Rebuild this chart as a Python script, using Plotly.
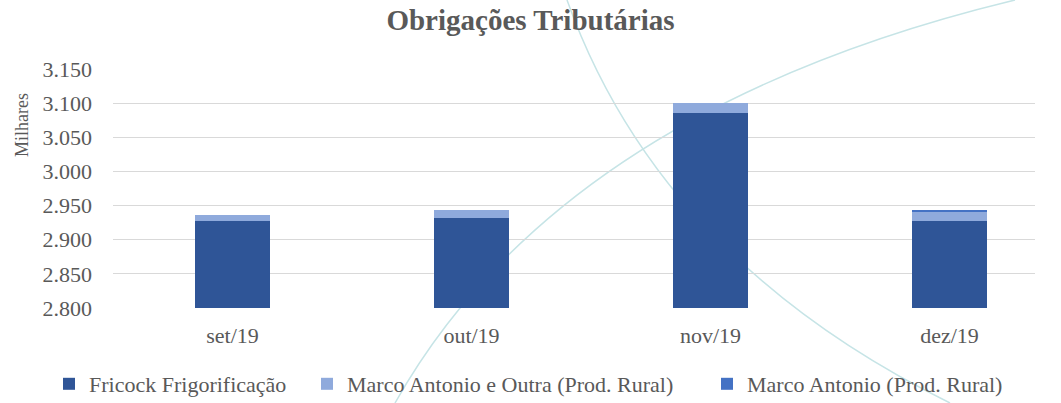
import plotly.graph_objects as go

categories = ["set/19", "out/19", "nov/19", "dez/19"]
fricock = [2928, 2932, 3086, 2928]
marco_outra = [8, 11, 14, 14]
marco_antonio = [0, 0, 0, 1.2]

series_names = ["Fricock Frigorificação", "Marco Antonio e Outra (Prod. Rural)", "Marco Antonio (Prod. Rural)"]
series_colors = ["#2f5597", "#8faadc", "#4472c4"]

W, H = 1061, 403
L, R, T, B = 113, 26, 69, 95
pw, ph = W - L - R, H - T - B

def px(x):
    return (x - L) / pw

def py(y):
    return (H - B - y) / ph

font_fam = "Liberation Serif, Times New Roman, serif"
grey = "#595959"

legend_keys = ["legend", "legend2", "legend3"]
marker_centers = [69, 327, 727]

fig = go.Figure()
x_idx = list(range(len(categories)))
for name, vals, col, lk in zip(series_names, [fricock, marco_outra, marco_antonio], series_colors, legend_keys):
    fig.add_trace(go.Bar(x=x_idx, y=vals, name=name, marker=dict(color=col, line=dict(width=0)),
                         width=0.314, legend=lk))

curve1 = f"M {px(395)},{py(403)} Q {px(560)},{py(110)} {px(1015)},{py(0)}"
curve2 = f"M {px(567)},{py(0)} Q {px(660)},{py(260)} {px(950)},{py(403)}"

shapes = [
    dict(type="path", xref="paper", yref="paper", path=curve1, layer="below",
         line=dict(color="#c6e4e6", width=1.5)),
    dict(type="path", xref="paper", yref="paper", path=curve2, layer="below",
         line=dict(color="#c6e4e6", width=1.5)),
]

legends = {}
for lk, mc in zip(legend_keys, marker_centers):
    legends[lk] = dict(orientation="h", x=px(mc - 20), xanchor="left", y=py(384), yanchor="middle",
                       font=dict(size=22, color=grey, family=font_fam), bgcolor="rgba(0,0,0,0)",
                       borderwidth=0)

fig.update_layout(
    width=W, height=H,
    margin=dict(l=L, r=R, t=T, b=B, autoexpand=False),
    barmode="stack",
    separators=",.",
    plot_bgcolor="rgba(0,0,0,0)",
    paper_bgcolor="white",
    font=dict(family=font_fam, color=grey, size=20),
    title=dict(text="<b>Obrigações Tributárias</b>", x=0.5, xanchor="center",
               y=1 - 20 / H, yanchor="middle", font=dict(size=29, color=grey, family=font_fam)),
    xaxis=dict(tickmode="array", tickvals=x_idx, ticktext=categories, range=[-0.5, -0.5 + pw / 239],
               showgrid=False, zeroline=False, showline=False, ticks="", ticklabelstandoff=12,
               tickfont=dict(size=22, color=grey, family=font_fam)),
    yaxis=dict(range=[2800, 3150], dtick=50, tickformat=",.0f", showgrid=True, gridcolor="#d9d9d9",
               gridwidth=1, zeroline=False, showline=False, ticks="", ticklabelstandoff=20,
               tickfont=dict(size=22, color=grey, family=font_fam)),
    shapes=shapes,
    showlegend=True,
    annotations=[dict(text="Milhares", xref="paper", yref="paper", x=px(22), y=py(125),
                      xanchor="center", yanchor="middle", textangle=-90, showarrow=False,
                      font=dict(size=18, color=grey, family=font_fam))],
    **legends,
)

fig.write_html("out.html", config={"displayModeBar": False},
               post_script="document.body.style.margin='0';")
